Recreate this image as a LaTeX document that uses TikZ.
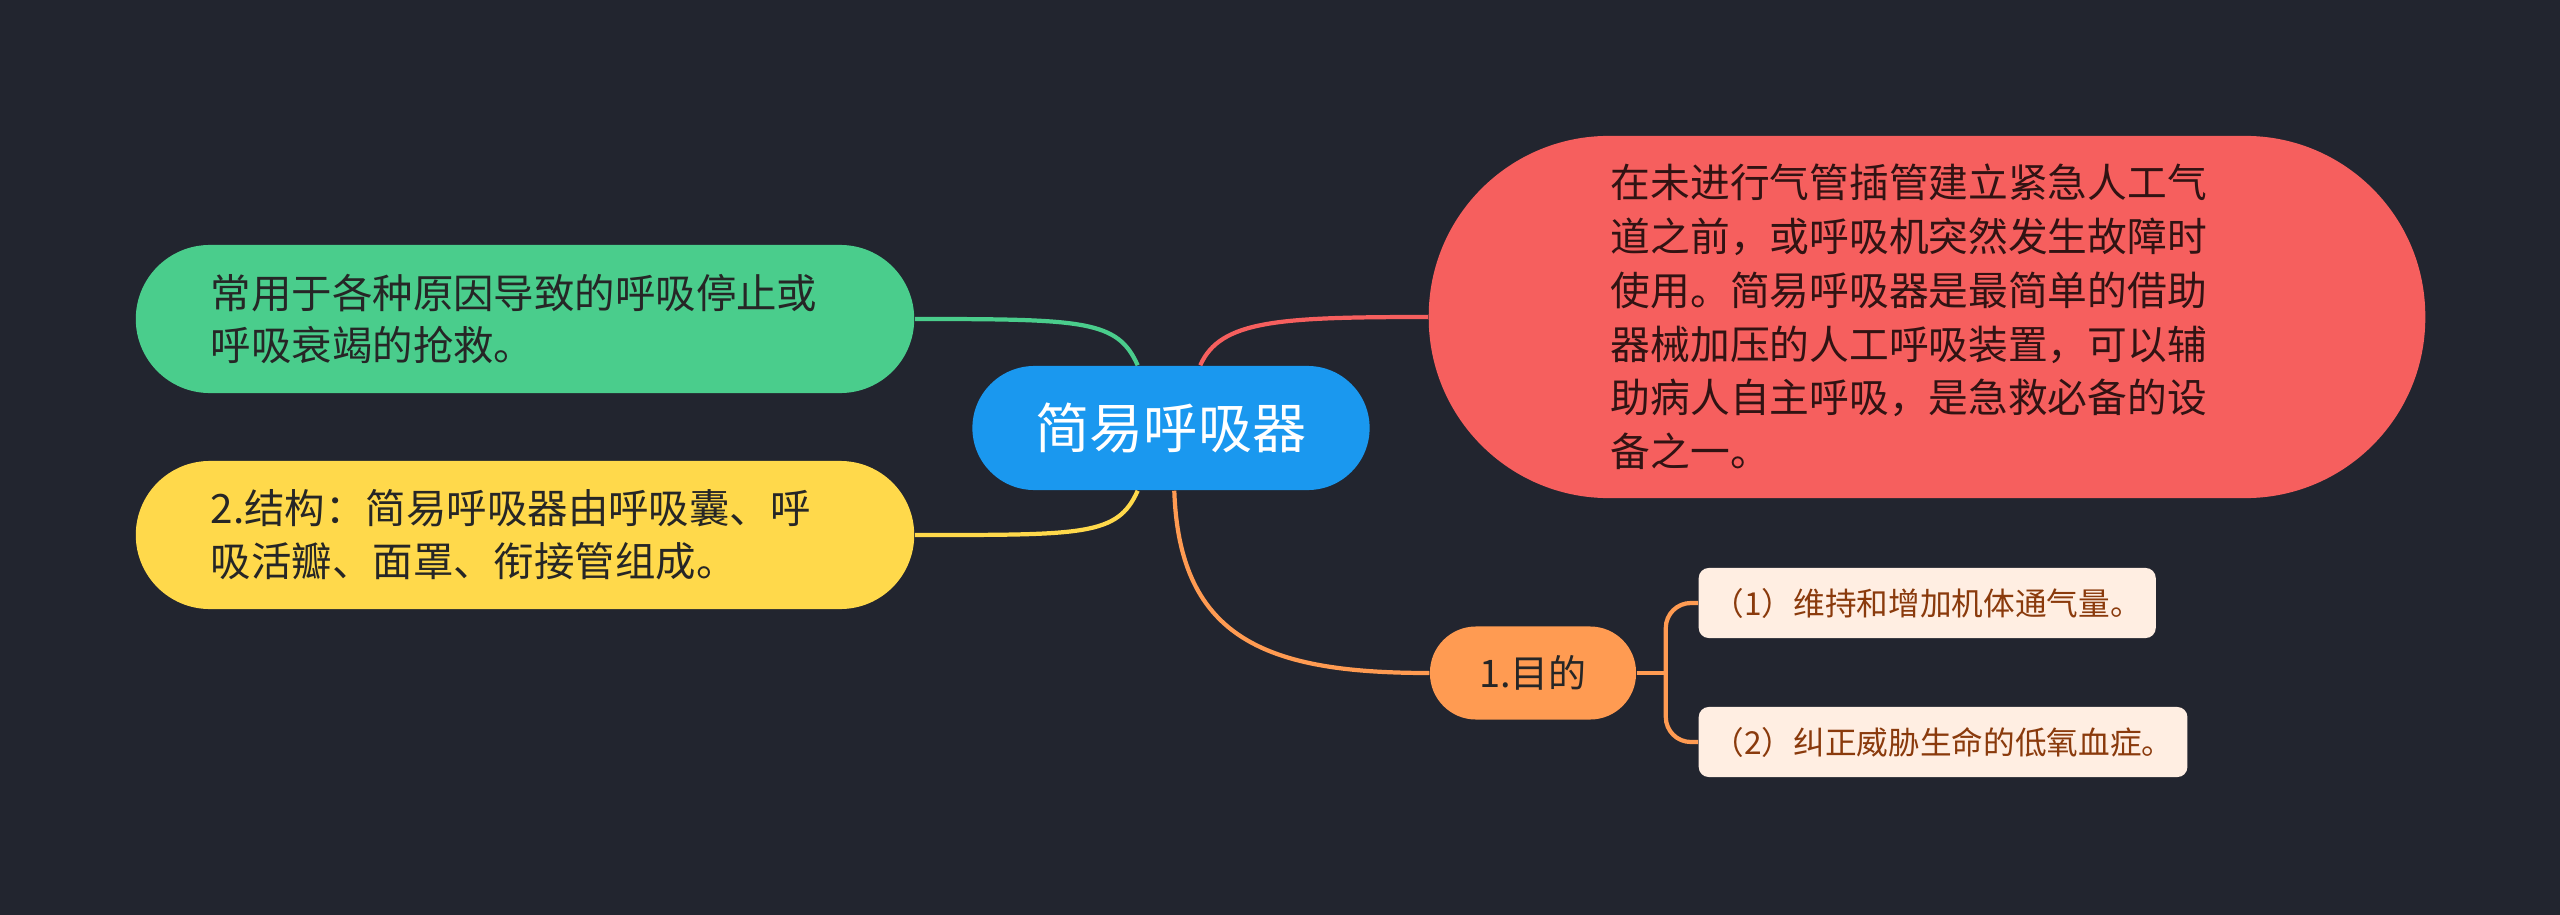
\documentclass[tikz,border=0pt]{standalone}
\usepackage{fontspec}
\setmainfont{Noto Sans CJK SC}
\usepackage{xcolor}
\usetikzlibrary{positioning}

\definecolor{bgdark}{HTML}{22252F}
\definecolor{rootblue}{HTML}{1A98EF}
\definecolor{mapgreen}{HTML}{4ACD8C}
\definecolor{mapyellow}{HTML}{FFD94B}
\definecolor{mapred}{HTML}{F65F5E}
\definecolor{maporange}{HTML}{FF9B52}
\definecolor{leafbg}{HTML}{FFEEE2}
\definecolor{leaftext}{HTML}{8A3A0C}
\definecolor{darktext}{HTML}{262626}

\begin{document}
\begin{tikzpicture}[x=0.01cm,y=-0.01cm,
  topic/.style={fill=rootblue,text=white,rounded corners=0.62cm,
    minimum width=3.97cm,minimum height=1.24cm,
    font=\fontsize{15.4}{18}\selectfont},
  branch/.style={rounded corners=0.74cm,inner xsep=0.75cm,text width=6.28cm,
    minimum height=1.48cm,align=left,text=darktext,
    font=\fontsize{11.5}{15}\selectfont},
  leaf/.style={fill=leafbg,text=leaftext,rounded corners=0.1cm,anchor=west,
    minimum height=0.7cm,inner xsep=0.14cm,font=\fontsize{9}{11}\selectfont},
  link/.style={line width=1.2pt}]
\fill[bgdark] (0,0) rectangle (2560,915);
\useasboundingbox (0,0) rectangle (2560,915);

% centre and first level
\node[topic] (root) at (1171,428) {简易呼吸器};
\node[branch,fill=mapgreen] (usage) at (525,319)
  {常用于各种原因导致的呼吸停止或\\呼吸衰竭的抢救。};
\node[branch,fill=mapyellow] (parts) at (525,535)
  {2.结构：简易呼吸器由呼吸囊、呼\\吸活瓣、面罩、衔接管组成。};
\node[branch,fill=mapred,inner xsep=1.82cm,text width=6.32cm,minimum height=3.62cm,
  rounded corners=1.8cm,text=black!80!mapred,
  font=\fontsize{11.3}{15.3}\selectfont] (about) at (1927,317)
  {在未进行气管插管建立紧急人工气\\道之前，或呼吸机突然发生故障时\\使用。简易呼吸器是最简单的借助\\器械加压的人工呼吸装置，可以辅\\助病人自主呼吸，是急救必备的设\\备之一。};
\node[fill=maporange,text=darktext,rounded corners=0.46cm,minimum width=2.06cm,
  minimum height=0.93cm,font=\fontsize{10.8}{13}\selectfont] (aim) at (1533,673) {1.目的};

% second level
\node[leaf] (aim1) at (1698,603) {（1）维持和增加机体通气量。};
\node[leaf] (aim2) at (1698,742) {（2）纠正威胁生命的低氧血症。};

% connectors
\draw[link,mapgreen] (root.118) .. controls +(-20,-45) and +(170,0) .. (usage.east);
\draw[link,mapyellow] (root.242) .. controls +(-20,45) and +(170,0) .. (parts.east);
\draw[link,mapred] (root.65) .. controls +(20,-45) and +(-150,0) .. (about.west);
\draw[link,maporange] (root.273) .. controls +(5,150) and +(-160,0) .. (aim.west);
\coordinate[right=0.29cm of aim.east] (fork);
\draw[link,maporange] (aim.east) -- (fork);
\draw[link,maporange,rounded corners=0.25cm] (aim1.west) -| (fork) |- (aim2.west);
\end{tikzpicture}
\end{document}
